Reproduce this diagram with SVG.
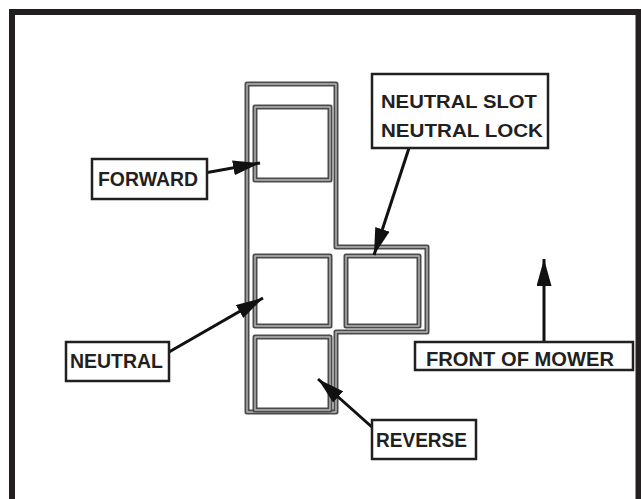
<svg xmlns="http://www.w3.org/2000/svg" width="641" height="499" viewBox="0 0 641 499">
<defs>
<marker id="ah" viewBox="0 0 27 15" refX="27" refY="7.5" markerWidth="27" markerHeight="15" markerUnits="userSpaceOnUse" orient="auto">
<path d="M0,0 L27,7.5 L0,15 z" fill="#111"/>
</marker>
<style>
.frame{fill:none;stroke:#231f20;stroke-width:6}
.slotO{fill:none;stroke:#4a4a4a;stroke-width:5;stroke-linejoin:round}
.slotI{fill:none;stroke:#b8b8b8;stroke-width:1.4;stroke-linejoin:round}
.box{fill:#fff;stroke:#231f20;stroke-width:2.5}
.lbl{font-family:"Liberation Sans",Arial,sans-serif;font-weight:bold;fill:#231f20}
.conn{stroke:#111;stroke-width:3;fill:none;marker-end:url(#ah)}
</style>
</defs>
<rect x="0" y="0" width="641" height="499" fill="#fff"/>
<rect class="frame" x="12" y="12" width="626.5" height="510"/>
<g id="slot">
<path class="slotO" d="M247,84 H336 V247 H427 V332 H336 V412 H247 Z"/>
<path class="slotI" d="M247,84 H336 V247 H427 V332 H336 V412 H247 Z"/>
<g id="sq-forward"><rect class="slotO" x="255" y="107" width="75" height="73"/><rect class="slotI" x="255" y="107" width="75" height="73"/></g>
<g id="sq-neutral"><rect class="slotO" x="255" y="256" width="75" height="70"/><rect class="slotI" x="255" y="256" width="75" height="70"/></g>
<g id="sq-lock"><rect class="slotO" x="346" y="256" width="73" height="70"/><rect class="slotI" x="346" y="256" width="73" height="70"/></g>
<g id="sq-reverse"><rect class="slotO" x="255" y="337" width="75" height="73"/><rect class="slotI" x="255" y="337" width="75" height="73"/></g>
</g>
<g id="connectors">
<line class="conn" x1="199" y1="174" x2="260" y2="163"/>
<line class="conn" x1="409" y1="148" x2="374" y2="255"/>
<line class="conn" x1="169" y1="352" x2="263" y2="298"/>
<line class="conn" x1="373" y1="428" x2="318" y2="379"/>
<line class="conn" x1="544" y1="342" x2="544" y2="259"/>
</g>
<g id="forward">
<rect class="box" x="92" y="159" width="115" height="40"/>
<text class="lbl" x="98" y="186" font-size="20" textLength="100" lengthAdjust="spacingAndGlyphs">FORWARD</text>
</g>
<g id="neutral-slot">
<rect class="box" x="372" y="74" width="176" height="74"/>
<text class="lbl" x="381" y="108" font-size="19" textLength="156" lengthAdjust="spacingAndGlyphs">NEUTRAL SLOT</text>
<text class="lbl" x="381" y="137" font-size="19" textLength="162" lengthAdjust="spacingAndGlyphs">NEUTRAL LOCK</text>
</g>
<g id="neutral">
<rect class="box" x="66" y="342" width="103" height="39"/>
<text class="lbl" x="70" y="368" font-size="21" textLength="93" lengthAdjust="spacingAndGlyphs">NEUTRAL</text>
</g>
<g id="reverse">
<rect class="box" x="372" y="420" width="104" height="39"/>
<text class="lbl" x="376" y="447" font-size="20" textLength="91" lengthAdjust="spacingAndGlyphs">REVERSE</text>
</g>
<g id="front">
<rect class="box" x="415" y="342" width="218" height="28"/>
<text class="lbl" x="426" y="366" font-size="20" textLength="188" lengthAdjust="spacingAndGlyphs">FRONT OF MOWER</text>
</g>
</svg>
